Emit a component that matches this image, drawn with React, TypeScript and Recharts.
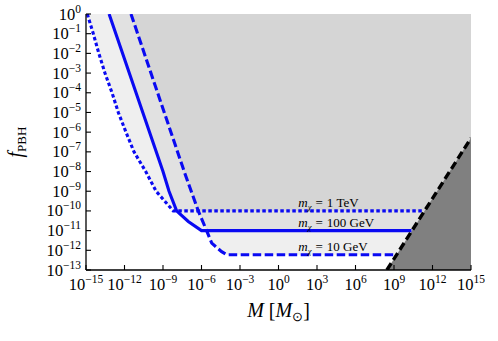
import React from "react";
import { ComposedChart, Area, Line, XAxis, YAxis, ReferenceDot } from "recharts";

const FONT = "'Liberation Serif', 'Times New Roman', serif";

// Axis ticks
const xTicks = [1e-15, 1e-12, 1e-9, 1e-6, 1e-3, 1, 1e3, 1e6, 1e9, 1e12, 1e15];
const xTickExponents = ["−15", "−12", "−9", "−6", "−3", "0", "3", "6", "9", "12", "15"];
const yTicks = [1, 1e-1, 1e-2, 1e-3, 1e-4, 1e-5, 1e-6, 1e-7, 1e-8, 1e-9, 1e-10, 1e-11, 1e-12, 1e-13];
const yTickExponents = ["0", "−1", "−2", "−3", "−4", "−5", "−6", "−7", "−8", "−9", "−10", "−11", "−12", "−13"];

// Constraint curves: M [M_sun], f_PBH
const curve1TeV = [
  { M: 1.26e-15, f: 1 },
  { M: 3.7e-15, f: 1e-1 },
  { M: 1.0e-14, f: 1e-2 },
  { M: 3.0e-14, f: 1e-3 },
  { M: 1.07e-13, f: 1e-4 },
  { M: 3.3e-13, f: 1e-5 },
  { M: 1.3e-12, f: 1e-6 },
  { M: 5.5e-12, f: 1e-7 },
  { M: 4.5e-11, f: 1e-8 },
  { M: 2.9e-10, f: 1e-9 },
  { M: 6.3e-9, f: 1e-10 },
  { M: 1.9e11, f: 1e-10 },
];

const curve100GeV = [
  { M: 6.3e-14, f: 1 },
  { M: 1.0e-9, f: 1e-8 },
  { M: 2.95e-9, f: 1e-9 },
  { M: 1.15e-8, f: 1e-10 },
  { M: 9.3e-8, f: 2.9e-11 },
  { M: 1.0e-6, f: 1e-11 },
  { M: 2.3e10, f: 1e-11 },
];

const curve10GeV = [
  { M: 3.2e-12, f: 1 },
  { M: 4.5e-8, f: 1e-8 },
  { M: 5.6e-7, f: 1e-10 },
  { M: 2.5e-6, f: 1e-11 },
  { M: 6.3e-6, f: 2.3e-12 },
  { M: 3.7e-5, f: 8.5e-13 },
  { M: 9.1e-5, f: 6.0e-13 },
  { M: 1.6e9, f: 6.0e-13 },
];

const boundary = [
  { M: 2.8e8, f: 1e-13 },
  { M: 1e15, f: 5e-7 },
];

const labelMasses = ["1 TeV", "100 GeV", "10 GeV"];
const labelLevels = [1e-10, 1e-11, 6.0e-13];
const labelStartM = 35;

const X_MAX = 1e15;
const extend = (arr: { M: number; f: number }[]) => [...arr, { M: X_MAX, f: arr[arr.length - 1].f }];

const fill1TeV = extend(curve1TeV);
const fill100GeV = extend(curve100GeV);
const fill10GeV = extend(curve10GeV);

const BLUE = "#0a0af2";
const TICK_LEN = 5;
const TICK_FS = 16.5;
const SUP_FS = 11.5;

const BottomTick = (props: any) => {
  const { x, y, payload } = props;
  const i = xTicks.indexOf(payload.value);
  return (
    <g>
      <line x1={x} y1={y} x2={x} y2={y - TICK_LEN} stroke="#000" strokeWidth={1.1} />
      <text x={x} y={y + 20} textAnchor="middle" fontSize={TICK_FS} fontFamily={FONT} fill="#000">
        10
        <tspan dy={-7} fontSize={SUP_FS}>
          {xTickExponents[i]}
        </tspan>
      </text>
    </g>
  );
};

const TopTick = (props: any) => {
  const { x, y } = props;
  return <line x1={x} y1={y} x2={x} y2={y + TICK_LEN} stroke="#000" strokeWidth={1.1} />;
};

const LeftTick = (props: any) => {
  const { x, y, payload } = props;
  const i = yTicks.indexOf(payload.value);
  return (
    <g>
      <line x1={x} y1={y} x2={x + TICK_LEN} y2={y} stroke="#000" strokeWidth={1.1} />
      <text x={x - 5} y={y + 5.5} textAnchor="end" fontSize={TICK_FS} fontFamily={FONT} fill="#000">
        10
        <tspan dy={-7} fontSize={SUP_FS}>
          {yTickExponents[i]}
        </tspan>
      </text>
    </g>
  );
};

const RightTick = (props: any) => {
  const { x, y } = props;
  return <line x1={x} y1={y} x2={x - TICK_LEN} y2={y} stroke="#000" strokeWidth={1.1} />;
};

const XLabel = (props: any) => {
  const vb = props.viewBox;
  const cx = vb.x + vb.width / 2;
  return (
    <text x={cx} y={vb.y + 47} textAnchor="middle" fontSize={20} fontFamily={FONT} fill="#000">
      <tspan fontStyle="italic">M</tspan>
      <tspan> [</tspan>
      <tspan fontStyle="italic">M</tspan>
      <tspan fontSize={13} dy={4}>⊙</tspan>
      <tspan dy={-4}>]</tspan>
    </text>
  );
};

const YLabel = (props: any) => {
  const vb = props.viewBox;
  const cx = vb.x + 22;
  const cy = vb.y + vb.height / 2;
  return (
    <text
      x={cx}
      y={cy}
      transform={`rotate(-90, ${cx}, ${cy})`}
      textAnchor="middle"
      fontSize={20}
      fontFamily={FONT}
      fill="#000"
    >
      <tspan fontStyle="italic">f</tspan>
      <tspan fontSize={13} dy={4}>PBH</tspan>
    </text>
  );
};

const makeLabelShape = (text: string) => (p: any) => (
  <text x={p.cx} y={p.cy - 3.5} fontSize={13} fontFamily={FONT} fill="#000">
    <tspan fontStyle="italic">m</tspan>
    <tspan fontStyle="italic" fontSize={8.5} dy={2.5}>χ</tspan>
    <tspan dy={-2.5} dx={4}>=</tspan>
    <tspan dx={4}>{text}</tspan>
  </text>
);

const fillProps = {
  type: "linear" as const,
  stroke: "none",
  fill: "#989898",
  fillOpacity: 0.155,
  dataKey: "f",
  baseValue: 1,
  isAnimationActive: false,
  dot: false,
  activeDot: false,
};

export default function App() {
  return (
    <div style={{ position: "absolute", left: 0, top: 0 }}>
      <ComposedChart width={498} height={341} margin={{ top: 14, right: 27, bottom: 0, left: 0 }}>
        <Area data={fill1TeV} {...fillProps} />
        <Area data={fill100GeV} {...fillProps} />
        <Area data={fill10GeV} {...fillProps} />
        <Area
          data={boundary}
          dataKey="f"
          type="linear"
          baseValue={1e-13}
          stroke="none"
          fill="#808080"
          fillOpacity={1}
          isAnimationActive={false}
          dot={false}
          activeDot={false}
        />
        <Line
          data={curve1TeV}
          dataKey="f"
          type="linear"
          stroke={BLUE}
          strokeWidth={3.1}
          strokeDasharray="3.5 2.5"
          dot={false}
          activeDot={false}
          isAnimationActive={false}
        />
        <Line
          data={curve100GeV}
          dataKey="f"
          type="linear"
          stroke={BLUE}
          strokeWidth={3.1}
          dot={false}
          activeDot={false}
          isAnimationActive={false}
        />
        <Line
          data={curve10GeV}
          dataKey="f"
          type="linear"
          stroke={BLUE}
          strokeWidth={3.1}
          strokeDasharray="8.5 3.5"
          dot={false}
          activeDot={false}
          isAnimationActive={false}
        />
        <Line
          data={boundary}
          dataKey="f"
          type="linear"
          stroke="#000"
          strokeWidth={3.4}
          strokeDasharray="8 4"
          dot={false}
          activeDot={false}
          isAnimationActive={false}
        />
        {labelMasses.map((t, i) => (
          <ReferenceDot
            key={t}
            x={labelStartM}
            y={labelLevels[i]}
            r={0}
            shape={makeLabelShape(t)}
          />
        ))}
        <XAxis
          dataKey="M"
          type="number"
          scale="log"
          domain={[1e-15, 1e15]}
          allowDataOverflow
          ticks={xTicks}
          interval={0}
          tick={<BottomTick />}
          tickLine={false}
          tickSize={0}
          tickMargin={0}
          height={71}
          axisLine={{ stroke: "#000", strokeWidth: 1.3 }}
          label={<XLabel />}
        />
        <XAxis
          xAxisId="top"
          orientation="top"
          dataKey="M"
          type="number"
          scale="log"
          domain={[1e-15, 1e15]}
          allowDataOverflow
          ticks={xTicks}
          interval={0}
          tick={<TopTick />}
          tickLine={false}
          tickSize={0}
          tickMargin={0}
          height={0}
          axisLine={{ stroke: "#000", strokeWidth: 1.3 }}
        />
        <YAxis
          dataKey="f"
          type="number"
          scale="log"
          domain={[1e-13, 1]}
          allowDataOverflow
          ticks={yTicks}
          interval={0}
          tick={<LeftTick />}
          tickLine={false}
          tickSize={0}
          tickMargin={0}
          width={86}
          axisLine={{ stroke: "#000", strokeWidth: 1.3 }}
          label={<YLabel />}
        />
        <YAxis
          yAxisId="right"
          orientation="right"
          dataKey="f"
          type="number"
          scale="log"
          domain={[1e-13, 1]}
          allowDataOverflow
          ticks={yTicks}
          interval={0}
          tick={<RightTick />}
          tickLine={false}
          tickSize={0}
          tickMargin={0}
          width={0}
          axisLine={{ stroke: "#000", strokeWidth: 1.3 }}
        />
      </ComposedChart>
    </div>
  );
}
